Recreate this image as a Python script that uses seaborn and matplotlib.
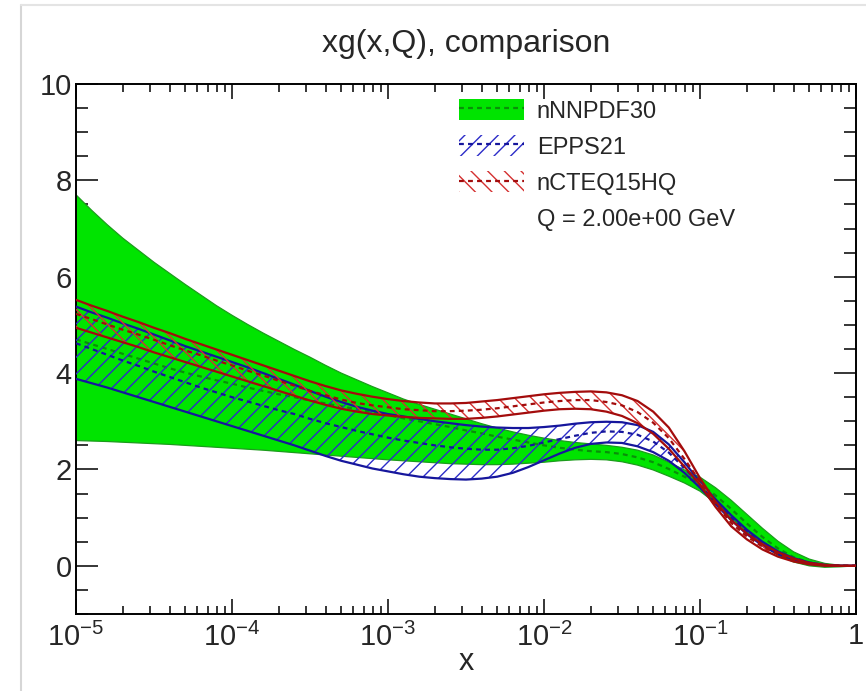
import numpy as np
import pandas as pd
import matplotlib
matplotlib.use("Agg")
import matplotlib.pyplot as plt
import seaborn as sns
from matplotlib.patches import Patch
from matplotlib.lines import Line2D
from matplotlib.ticker import FixedLocator, LogLocator, NullFormatter

# ---------------- data ----------------
log_x = [-5.0, -4.9, -4.8, -4.7, -4.6, -4.5, -4.4, -4.3, -4.2, -4.1,
         -4.0, -3.9, -3.8, -3.7, -3.6, -3.5, -3.4, -3.3, -3.2, -3.1,
         -3.0, -2.9, -2.8, -2.7, -2.6, -2.5, -2.4, -2.3, -2.2, -2.1,
         -2.0, -1.9, -1.8, -1.7, -1.6, -1.5, -1.4, -1.3, -1.2, -1.1,
         -1.0, -0.9, -0.8, -0.7, -0.6, -0.5, -0.4, -0.3, -0.2, -0.1, 0.0]

nnpdf_up = [7.70, 7.38, 7.08, 6.80, 6.55, 6.30, 6.07, 5.84, 5.62, 5.40,
            5.20, 5.01, 4.83, 4.66, 4.49, 4.33, 4.16, 4.00, 3.86, 3.72,
            3.59, 3.46, 3.35, 3.25, 3.15, 3.05, 2.95, 2.86, 2.78, 2.71,
            2.65, 2.60, 2.56, 2.53, 2.50, 2.46, 2.40, 2.30, 2.15, 1.99,
            1.84, 1.62, 1.36, 1.07, 0.78, 0.51, 0.29, 0.14, 0.05, 0.01, 0.00]
nnpdf_lo = [2.60, 2.59, 2.58, 2.565, 2.55, 2.535, 2.52, 2.50, 2.48, 2.46,
            2.44, 2.42, 2.40, 2.375, 2.35, 2.325, 2.30, 2.275, 2.25, 2.225,
            2.20, 2.18, 2.16, 2.14, 2.12, 2.11, 2.10, 2.10, 2.11, 2.13,
            2.15, 2.18, 2.20, 2.21, 2.20, 2.16, 2.09, 1.99, 1.86, 1.72,
            1.55, 1.30, 1.00, 0.70, 0.43, 0.22, 0.08, 0.00, -0.03, -0.02, 0.00]
nnpdf_c = [4.70, 4.60, 4.50, 4.40, 4.30, 4.20, 4.10, 4.01, 3.93, 3.85,
           3.78, 3.70, 3.63, 3.56, 3.50, 3.43, 3.37, 3.31, 3.25, 3.19,
           3.13, 3.06, 3.00, 2.94, 2.88, 2.81, 2.75, 2.68, 2.62, 2.56,
           2.50, 2.45, 2.41, 2.38, 2.36, 2.32, 2.25, 2.15, 2.01, 1.85,
           1.70, 1.46, 1.18, 0.88, 0.60, 0.36, 0.18, 0.07, 0.01, 0.00, 0.00]

epps_up = [5.38, 5.26, 5.15, 5.03, 4.92, 4.80, 4.68, 4.56, 4.45, 4.34,
           4.23, 4.12, 4.00, 3.88, 3.76, 3.63, 3.51, 3.40, 3.30, 3.22,
           3.15, 3.10, 3.05, 3.00, 2.96, 2.92, 2.89, 2.87, 2.86, 2.86,
           2.88, 2.91, 2.95, 2.98, 2.99, 2.98, 2.92, 2.78, 2.52, 2.15,
           1.74, 1.38, 1.05, 0.75, 0.50, 0.30, 0.16, 0.07, 0.02, 0.00, 0.00]
epps_lo = [3.88, 3.79, 3.70, 3.60, 3.50, 3.40, 3.30, 3.20, 3.10, 3.00,
           2.90, 2.80, 2.70, 2.60, 2.50, 2.39, 2.28, 2.18, 2.10, 2.02,
           1.96, 1.90, 1.85, 1.82, 1.80, 1.79, 1.81, 1.85, 1.93, 2.05,
           2.19, 2.33, 2.45, 2.53, 2.56, 2.55, 2.48, 2.36, 2.18, 1.93,
           1.62, 1.28, 0.95, 0.66, 0.42, 0.24, 0.11, 0.04, 0.01, 0.00, 0.00]
epps_c = [4.62, 4.50, 4.38, 4.26, 4.15, 4.03, 3.92, 3.81, 3.70, 3.60,
          3.50, 3.41, 3.32, 3.23, 3.15, 3.05, 2.96, 2.88, 2.80, 2.73,
          2.66, 2.60, 2.55, 2.50, 2.46, 2.43, 2.41, 2.41, 2.44, 2.49,
          2.56, 2.63, 2.70, 2.76, 2.79, 2.78, 2.72, 2.58, 2.35, 2.03,
          1.68, 1.33, 1.00, 0.70, 0.46, 0.27, 0.13, 0.05, 0.01, 0.00, 0.00]

ncteq_up = [5.52, 5.40, 5.29, 5.17, 5.06, 4.94, 4.83, 4.71, 4.60, 4.49,
            4.38, 4.27, 4.16, 4.05, 3.94, 3.83, 3.73, 3.64, 3.57, 3.51,
            3.46, 3.42, 3.39, 3.37, 3.37, 3.38, 3.41, 3.44, 3.48, 3.52,
            3.56, 3.59, 3.61, 3.62, 3.60, 3.54, 3.42, 3.20, 2.87, 2.38,
            1.82, 1.33, 0.95, 0.67, 0.45, 0.28, 0.15, 0.06, 0.02, 0.00, 0.00]
ncteq_lo = [4.94, 4.84, 4.74, 4.64, 4.54, 4.43, 4.33, 4.23, 4.13, 4.03,
            3.93, 3.83, 3.73, 3.63, 3.53, 3.43, 3.34, 3.26, 3.20, 3.15,
            3.12, 3.09, 3.07, 3.06, 3.05, 3.05, 3.07, 3.10, 3.14, 3.18,
            3.22, 3.25, 3.26, 3.25, 3.20, 3.11, 2.96, 2.74, 2.43, 2.06,
            1.68, 1.22, 0.82, 0.55, 0.34, 0.19, 0.09, 0.03, 0.00, 0.00, 0.00]
ncteq_c = [5.23, 5.12, 5.01, 4.90, 4.80, 4.69, 4.58, 4.47, 4.37, 4.26,
           4.16, 4.05, 3.95, 3.84, 3.74, 3.63, 3.54, 3.45, 3.38, 3.33,
           3.29, 3.25, 3.23, 3.21, 3.21, 3.22, 3.24, 3.27, 3.31, 3.35,
           3.39, 3.42, 3.44, 3.44, 3.40, 3.33, 3.19, 2.97, 2.65, 2.22,
           1.75, 1.28, 0.89, 0.61, 0.40, 0.24, 0.12, 0.05, 0.01, 0.00, 0.00]

x_ticks = [1e-5, 1e-4, 1e-3, 1e-2, 1e-1, 1.0]
x_tick_labels = [r"$10^{-5}$", r"$10^{-4}$", r"$10^{-3}$", r"$10^{-2}$", r"$10^{-1}$", "1"]
y_ticks = [0, 2, 4, 6, 8, 10]

set_labels = ["nNNPDF30", "EPPS21", "nCTEQ15HQ"]
q_label = "Q = 2.00e+00 GeV"
title = "xg(x,Q), comparison"

# ---------------- style ----------------
sns.set_theme(style="ticks")
plt.rcParams["font.family"] = ["Liberation Sans", "DejaVu Sans"]
plt.rcParams["mathtext.fontset"] = "custom"
plt.rcParams["mathtext.rm"] = "Liberation Sans"
plt.rcParams["mathtext.it"] = "Liberation Sans:italic"
plt.rcParams["mathtext.bf"] = "Liberation Sans:bold"
plt.rcParams["mathtext.default"] = "regular"
plt.rcParams["hatch.linewidth"] = 1.0
plt.rcParams["lines.scale_dashes"] = False

GREEN_FILL = "#00e400"
GREEN_EDGE = "#1c9c1c"
GREEN_DASH = "#0a8f0a"
BLUE_LINE = "#16169c"
BLUE_HATCH = "#2c2cc8"
RED_LINE = "#a30c0c"
RED_HATCH = "#d43030"
DASH = (3.5, 3.0)
TICK_FS = 21
TITLE_FS = 23
LEG_FS = 17

x = 10.0 ** np.array(log_x)
df = pd.DataFrame({
    "x": x,
    "nnpdf_up": nnpdf_up, "nnpdf_lo": nnpdf_lo, "nnpdf_c": nnpdf_c,
    "epps_up": epps_up, "epps_lo": epps_lo, "epps_c": epps_c,
    "ncteq_up": ncteq_up, "ncteq_lo": ncteq_lo, "ncteq_c": ncteq_c,
})

fig = plt.figure(figsize=(8.66, 6.91), dpi=100)
ax = fig.add_axes([76 / 866, 1 - 614 / 691, 780 / 866, 530 / 691])
ax.set_xscale("log")

# nNNPDF30: solid green band
ax.fill_between(df["x"], df["nnpdf_lo"], df["nnpdf_up"], facecolor=GREEN_FILL,
                edgecolor="none", linewidth=0, zorder=1)
for col in ["nnpdf_up", "nnpdf_lo"]:
    sns.lineplot(data=df, x="x", y=col, ax=ax, color=GREEN_EDGE, linewidth=0.9,
                 zorder=2, estimator=None, sort=False)
sns.lineplot(data=df, x="x", y="nnpdf_c", ax=ax, color=GREEN_DASH, linewidth=1.6,
             dashes=DASH, zorder=2, estimator=None, sort=False)

# EPPS21: blue hatched band
ax.fill_between(df["x"], df["epps_lo"], df["epps_up"], facecolor="none",
                edgecolor=BLUE_HATCH, hatch="//", linewidth=0, zorder=3)
for col in ["epps_up", "epps_lo"]:
    sns.lineplot(data=df, x="x", y=col, ax=ax, color=BLUE_LINE, linewidth=1.6,
                 zorder=4, estimator=None, sort=False)
sns.lineplot(data=df, x="x", y="epps_c", ax=ax, color=BLUE_LINE, linewidth=1.6,
             dashes=DASH, zorder=4, estimator=None, sort=False)

# nCTEQ15HQ: red hatched band
ax.fill_between(df["x"], df["ncteq_lo"], df["ncteq_up"], facecolor="none",
                edgecolor=RED_HATCH, hatch="\\\\", linewidth=0, zorder=5)
for col in ["ncteq_up", "ncteq_lo"]:
    sns.lineplot(data=df, x="x", y=col, ax=ax, color=RED_LINE, linewidth=1.6,
                 zorder=6, estimator=None, sort=False)
sns.lineplot(data=df, x="x", y="ncteq_c", ax=ax, color=RED_LINE, linewidth=1.6,
             dashes=DASH, zorder=6, estimator=None, sort=False)

# ---------------- axes ----------------
ax.set_xlim(1e-5, 1.0)
ax.set_ylim(-1, 10)
ax.set_xticks(x_ticks)
ax.set_xticklabels(x_tick_labels)
ax.xaxis.set_minor_locator(LogLocator(base=10, subs=np.arange(2, 10)))
ax.xaxis.set_minor_formatter(NullFormatter())
ax.set_yticks(y_ticks)
ax.set_yticklabels([str(v) for v in y_ticks])
ax.yaxis.set_minor_locator(FixedLocator(np.arange(-1, 10.01, 0.5)))

for s in ax.spines.values():
    s.set_linewidth(1.4)
    s.set_color("black")
    s.set_visible(True)

ax.tick_params(which="both", direction="in", top=True, right=True, color="black", width=1.1)
ax.tick_params(axis="x", which="major", length=11, pad=6, labelsize=TICK_FS)
ax.tick_params(axis="x", which="minor", length=5.5)
ax.tick_params(axis="y", which="major", length=16, pad=3, labelsize=TICK_FS)
ax.tick_params(axis="y", which="minor", length=8.5)
ax.set_xlabel("x", fontsize=22, labelpad=-3)
ax.set_ylabel("")
ax.set_title(title, fontsize=TITLE_FS, pad=23)
ax.grid(False)

# ---------------- legend ----------------
handles = [
    (Patch(facecolor=GREEN_FILL, edgecolor="none", linewidth=0),
     Line2D([], [], color=GREEN_DASH, linewidth=1.6, dashes=DASH)),
    (Patch(facecolor="none", edgecolor=BLUE_HATCH, hatch="//", linewidth=0),
     Line2D([], [], color=BLUE_LINE, linewidth=1.6, dashes=DASH)),
    (Patch(facecolor="none", edgecolor=RED_HATCH, hatch="\\\\", linewidth=0),
     Line2D([], [], color=RED_LINE, linewidth=1.6, dashes=DASH)),
    Line2D([], [], color="none"),
]
labels = set_labels + [q_label]
leg = ax.legend(handles, labels, loc="upper left", frameon=False, fontsize=LEG_FS,
                bbox_to_anchor=(459 / 866, 1 - 99 / 691), bbox_transform=fig.transFigure,
                borderpad=0, borderaxespad=0, handlelength=2.75, handleheight=1.0,
                handletextpad=0.55, labelspacing=0.53)

# page edge decoration (light gray border as in the screenshot)
fig.add_artist(Line2D([21 / 866, 21 / 866], [0, 1 - 5 / 691], transform=fig.transFigure,
                      color="#d6d6d6", linewidth=1.5))
fig.add_artist(Line2D([21 / 866, 1], [1 - 5 / 691, 1 - 5 / 691], transform=fig.transFigure,
                      color="#e4e4e4", linewidth=1.5))

fig.savefig("out.png", dpi=100)
